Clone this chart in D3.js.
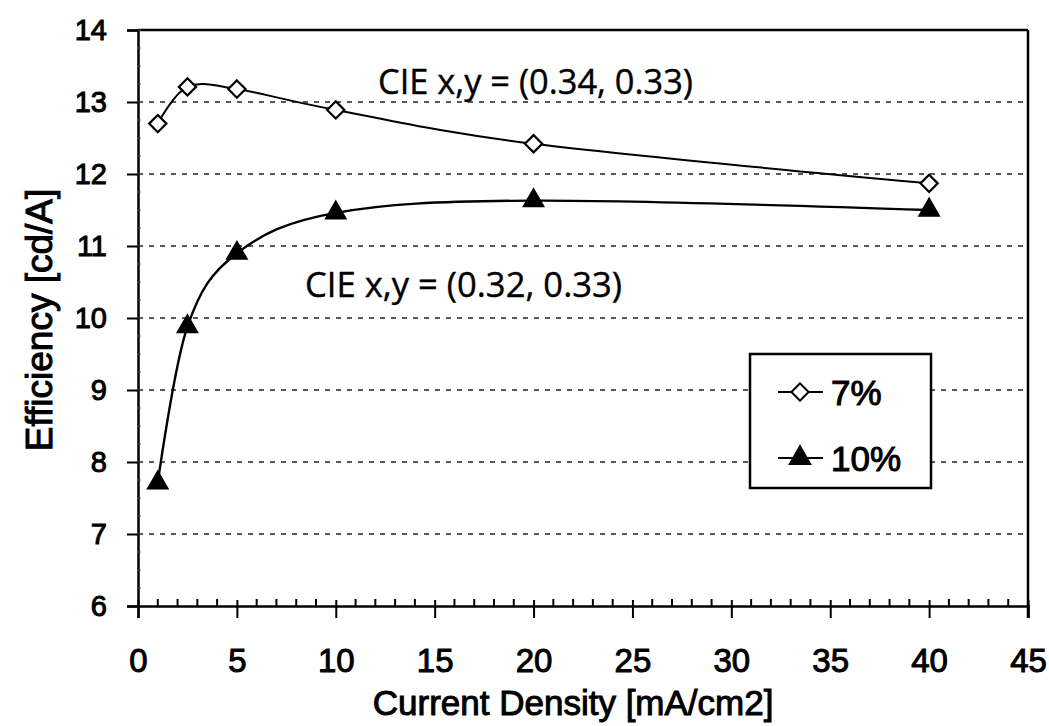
<!DOCTYPE html>
<html>
<head>
<meta charset="utf-8">
<script src="https://cdn.jsdelivr.net/npm/d3@7"></script>
<style>
  body { margin: 0; background: #fff; }
  svg { display: block; }
  .lbl { font-family: "Liberation Sans", Arial, sans-serif; fill: #000; stroke: #000; stroke-width: 1; }
  .note { font-family: "Open Sans", sans-serif; fill: #000; stroke: #000; stroke-width: 0.4; }
</style>
</head>
<body>
<script>
// values
var currentDensity = [1, 2.5, 5, 10, 20, 40];
var eff7 = [12.70, 13.21, 13.18, 12.89, 12.42, 11.87];
var eff10 = [7.71, 9.88, 10.90, 11.46, 11.63, 11.50];
var seriesNames = ["7%", "10%"];
var xTicks = [0, 5, 10, 15, 20, 25, 30, 35, 40, 45];
var yTicks = [6, 7, 8, 9, 10, 11, 12, 13, 14];
var notes = ["CIE x,y = (0.34, 0.33)", "CIE x,y = (0.32, 0.33)"];

var W = 1049, H = 726,
    margin = {top: 30, right: 21, bottom: 120, left: 138},
    width = W - margin.left - margin.right,
    height = H - margin.top - margin.bottom;

var svg = d3.select("body").append("svg")
    .attr("width", W)
    .attr("height", H);

var g = svg.append("g")
    .attr("transform", "translate(" + margin.left + "," + margin.top + ")");

var x = d3.scaleLinear().domain([0, 45]).range([0, width]);
var y = d3.scaleLinear().domain([6, 14]).range([height, 0]);

// dashed gridlines
g.selectAll(".grid").data(yTicks.filter(function(d) { return d > 6 && d < 14; }))
  .enter().append("line")
    .attr("x1", 0).attr("x2", width)
    .attr("y1", function(d) { return y(d); })
    .attr("y2", function(d) { return y(d); })
    .attr("stroke", "#222")
    .attr("stroke-width", 1.4)
    .attr("stroke-dasharray", "5,6");

// frame: top and right
g.append("line").attr("x1", 0).attr("x2", width).attr("y1", 0).attr("y2", 0)
  .attr("stroke", "#000").attr("stroke-width", 2.5);
g.append("line").attr("x1", width).attr("x2", width).attr("y1", 0).attr("y2", height + 12)
  .attr("stroke", "#000").attr("stroke-width", 2.5);

// y axis
var yAxis = d3.axisLeft(y).tickValues(yTicks).tickSize(11).tickPadding(20);
var ya = g.append("g").call(yAxis);
ya.select(".domain").attr("stroke-width", 2.5);
ya.selectAll(".tick line").attr("stroke-width", 2);
ya.selectAll(".tick text").attr("class", "lbl").style("font-size", "29px");

// small y minor ticks
g.selectAll(".yminor").data(d3.range(6, 14.01, 0.25))
  .enter().append("line")
    .attr("x1", 0).attr("x2", 3)
    .attr("y1", function(d) { return y(d); })
    .attr("y2", function(d) { return y(d); })
    .attr("stroke", "#555").attr("stroke-width", 1);

// x axis
var xAxis = d3.axisBottom(x).tickValues(xTicks).tickSize(12).tickPadding(31);
var xa = g.append("g").attr("transform", "translate(0," + height + ")").call(xAxis);
xa.select(".domain").attr("stroke-width", 2.5);
xa.selectAll(".tick line").attr("stroke-width", 2).attr("y1", -6);
xa.selectAll(".tick text").attr("class", "lbl").style("font-size", "33px");

// x minor ticks
g.selectAll(".xminor").data(d3.range(1, 45).filter(function(d) { return d % 5 !== 0; }))
  .enter().append("line")
    .attr("x1", function(d) { return x(d); })
    .attr("x2", function(d) { return x(d); })
    .attr("y1", height).attr("y2", height - 7)
    .attr("stroke", "#000").attr("stroke-width", 2);

// axis titles
svg.append("text").attr("class", "lbl")
  .attr("x", margin.left + x(22)).attr("y", 715)
  .attr("text-anchor", "middle")
  .style("font-size", "35px")
  .text("Current Density [mA/cm2]");

svg.append("text").attr("class", "lbl")
  .attr("transform", "translate(52,320) rotate(-90)")
  .attr("text-anchor", "middle")
  .style("font-size", "37px")
  .text("Efficiency [cd/A]");

// series
var line = d3.line()
  .x(function(d) { return x(d[0]); })
  .y(function(d) { return y(d[1]); })
  .curve(d3.curveCardinal.tension(0));

var s7 = d3.zip(currentDensity, eff7);
var s10 = d3.zip(currentDensity, eff10);

g.append("path").datum(s7).attr("d", line)
  .attr("fill", "none").attr("stroke", "#000").attr("stroke-width", 2);
g.append("path").datum(s10).attr("d", line)
  .attr("fill", "none").attr("stroke", "#000").attr("stroke-width", 2.4);

var diamond = d3.symbol().type(d3.symbolDiamond2).size(190);
var triangle = d3.symbol().type(d3.symbolTriangle).size(180);

g.selectAll(".m7").data(s7).enter().append("path")
  .attr("transform", function(d) { return "translate(" + x(d[0]) + "," + y(d[1]) + ")"; })
  .attr("d", diamond)
  .attr("fill", "#fff").attr("stroke", "#000").attr("stroke-width", 2.2);

g.selectAll(".m10").data(s10).enter().append("path")
  .attr("transform", function(d) { return "translate(" + x(d[0]) + "," + y(d[1]) + ")"; })
  .attr("d", triangle)
  .attr("fill", "#000").attr("stroke", "#000").attr("stroke-width", 1.5);

// annotations
svg.append("text").attr("class", "note")
  .attr("x", 378).attr("y", 94)
  .attr("textLength", 315).attr("lengthAdjust", "spacingAndGlyphs")
  .style("font-size", "35px")
  .text(notes[0]);
svg.append("text").attr("class", "note")
  .attr("x", 305).attr("y", 297)
  .attr("textLength", 317).attr("lengthAdjust", "spacingAndGlyphs")
  .style("font-size", "35px")
  .text(notes[1]);

// legend
var leg = svg.append("g");
leg.append("rect")
  .attr("x", 750).attr("y", 354).attr("width", 181).attr("height", 134)
  .attr("fill", "#fff").attr("stroke", "#000").attr("stroke-width", 2.5);

var legRows = [
  {name: seriesNames[0], y: 392, sym: diamond, fill: "#fff"},
  {name: seriesNames[1], y: 458, sym: triangle, fill: "#000"}
];
legRows.forEach(function(r) {
  leg.append("line").attr("x1", 778).attr("x2", 823)
    .attr("y1", r.y).attr("y2", r.y)
    .attr("stroke", "#000").attr("stroke-width", 2);
  leg.append("path")
    .attr("transform", "translate(800," + r.y + ")")
    .attr("d", r.sym)
    .attr("fill", r.fill).attr("stroke", "#000").attr("stroke-width", 2);
  leg.append("text").attr("class", "lbl")
    .attr("x", 831).attr("y", r.y + 13)
    .style("font-size", "35px")
    .text(r.name);
});
</script>
</body>
</html>
